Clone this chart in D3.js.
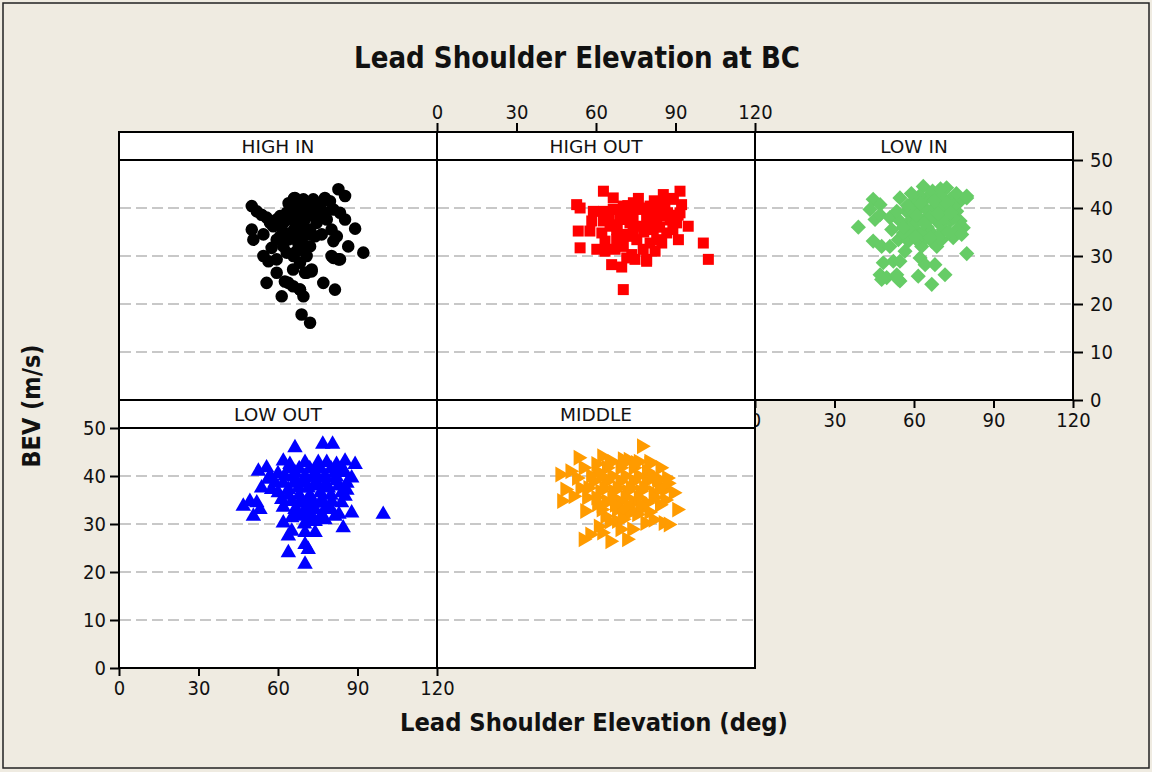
<!DOCTYPE html>
<html>
<head>
<meta charset="utf-8">
<script src="https://cdn.jsdelivr.net/npm/d3@7"></script>
<style>
  html, body { margin: 0; padding: 0; background: #EFEBE1; }
  svg { display: block; }
  text { font-family: "DejaVu Sans Condensed", "DejaVu Sans", sans-serif; fill: #111; }
</style>
</head>
<body>
<svg id="chart" width="1152" height="772"></svg>
<script>
// ---------------- DATA ----------------
const title = "Lead Shoulder Elevation at BC";
const xLabel = "Lead Shoulder Elevation (deg)";
const yLabel = "BEV (m/s)";
const panelNames = ["HIGH IN", "HIGH OUT", "LOW IN", "LOW OUT", "MIDDLE"];
const xTicks = [0, 30, 60, 90, 120];
const yTicks = [0, 10, 20, 30, 40, 50];
const gridValues = [10, 20, 30, 40];

const highInAngle = [50.1,52,53.8,55.7,50.1,50.7,54.5,60.8,66.4,68.3,73.3,77.7,82.8,85.3,80.9,85.3,89.1,92.2,86.5,80.9,82.8,76.5,80.9,54.5,56.4,59.5,57.6,59.5,65.7,59.5,55.7,62.6,65.7,61.4,68.3,69.6,70.2,72.7,77.1,81.5,68.9,72.1,80.2,63.3,65.8,68.3,70.8,65.7,67.6,69.6,72.1,62,60.8,58.2,74.6,78.4,75.8,72.1,69.6,65.8,62,68.3,70.8,65.8,68.3,63.3,80.2,82.2,83.4,79.6,74,72.1,59.5,57,63.9,68.3,70.8,72.7,83.4,
  64,67,70,66,69,71,64,67,73,62,66,71,75,63,60,67,70,76,78,64,68];
const highInBev   = [40.4,39.3,38.6,38,35.5,33.4,34.5,38.3,42.1,40.7,41.8,42.1,43.9,42.5,39.7,37.6,35.7,30.7,32,29.6,29.3,34.5,33.1,30,28.9,29.3,31.7,33.4,27.2,26.5,24.4,24.7,23.7,21.6,23,21.6,26.5,27.2,24.4,23,17.8,16.1,30,39,37.6,36.2,39,34.8,32.7,31.4,32,32,34.1,36.2,36.9,37.6,39.7,40.4,41.8,40.4,36.9,34.1,30,30,28.6,30.7,35.5,34.1,39,41.4,34.1,35.5,37.6,36.9,24.4,23,26.5,26.8,29.3,
  38,39.5,37.5,35.5,33,34.5,33.5,31,38.5,35,42,41,38,37.5,36.5,36,35.8,40.5,39,41,38.5];

const highOutAngle = [62.8,66.5,52.7,54,59,62.8,58.4,62.8,53.3,57.7,62.2,63.4,54,60.3,63.4,67.2,65.9,69.7,70.3,71.6,73.5,77.8,79.1,82.3,84.8,91.1,94.8,100.5,102.4,91.7,85.4,84.2,89.2,92.3,91.7,86.7,90.4,86.7,81.6,82.9,70.3,74.1,76.6,79.1,69.1,72.8,76.6,67.8,71.6,75.4,67.8,70.3,80.4,66.5,80.4,82.9,82.9,72.8,65.3,74.7,79.1,
  70,74,78,82,86,88,84,78,74,70,72,76,80,88,68,65,87,85,91,89];
const highOutBev   = [43.5,42.1,40.7,40,39.3,39.3,37.3,37.3,35.2,35.2,34.8,33.1,31.7,31.4,31,31.4,28.2,27.7,23,29.6,30.3,31.4,29.3,31,32.7,33.4,36.2,32.7,29.3,43.5,42.8,41.1,41.8,40.7,39,38.3,36.9,34.8,35.5,33.4,40.4,41.1,39.7,38.3,37.6,36.9,36.2,35.5,34.1,33.4,33.4,32,32.7,39.7,40.4,39,36.9,39,36.2,29.3,28.9,
  38.5,38,40,41.5,40,37.5,36,35,35,34.5,40.5,42,37,42,36.5,38,39,38.5,38.5,35.5];

const lowInAngle = [39,44.6,47.2,43.4,45.3,47.2,50.9,51.6,44.6,47.8,50.9,54.1,56.6,48.4,52.2,54.7,47.2,49.7,53.5,54.7,62.3,64.2,67.9,71.7,61.6,66.7,79.9,76.1,78.6,74.8,70.4,66.7,68.6,62.9,57.9,56,54.7,63.5,72.3,79.9,77.4,59.7,64.8,68.6,73.6,57.2,62.3,67.3,72.3,76.1,58.5,63.5,68.6,73.6,61,66,71.1,64.8,61,54.7,53.5,77.4,79.9,76.1,78,54.1,47.8,
  60,65,70,75,60,65,70,75,62,67,71,58,63,69,73,66,71,61,56,59,76,70,
  62.5,67.5,72.5,64,69,74,57.5,60.5,66];
const lowInBev   = [36,41.8,40.7,39.7,37.6,38.6,38,35.5,33.1,32,32,33.4,31,28.6,28.9,28.9,26.1,25.5,26.1,24.8,29.6,28.2,28.2,26.1,25.8,24.1,30.5,34.8,35.9,33.8,33.4,33.1,32,32,33.1,34.8,42.1,44.5,44.2,42.5,41.4,41.4,42.1,42.8,41.8,39.3,40,40,39.3,39.3,37.3,37.3,37.3,37.3,35.2,35.2,35.5,33.8,33.4,37.3,39.3,37.3,42.1,35.5,34.5,25.1,25.1,
  39,39.5,40.5,40.5,36.5,36,36.5,38,42.5,43.5,42,35.5,34.5,34,35,38,38,38.5,36,43,43,44,
  41,41.5,41,36.8,38.8,39,40.5,34,33.8];

const lowOutAngle = [66.4,76.9,80.6,52.6,55.7,62,64.5,70.2,75.2,78.4,82.1,85.3,89.1,87.8,53.8,46.9,49.4,52,53.2,50.7,99.7,87.8,84.6,62,65.2,63.9,70.2,71.4,63.9,70.2,74,70.2,81.5,77.7,68.9,58.9,62.6,66.4,70.2,74,77.7,81.5,85.3,60.1,63.9,67.7,71.4,75.2,79,82.8,85.3,61.4,65.2,68.9,72.7,76.5,80.3,84,66.4,70.2,74,77.7,65.2,72.7,56.3,57.6,
  60,64,68,72,76,80,84,62,66,70,74,78,82,86,64,68,72,76,80,84,62,68,72,76,80,83,70,74,86,57,
  66,70,74,78,82,68,72,76];
const lowOutBev   = [45.9,46.6,46.6,41,41.7,43.1,42.4,42.8,42.8,42.8,42.4,43.1,42.4,39.6,37.5,33.7,34.7,34.4,33,31.6,32,32.3,29.2,30.2,28.5,27.5,25.7,24.7,24,21.6,28.2,28.2,31.6,30.9,31.6,38.6,40,40.7,40,40.7,40,40.7,40.7,36.5,37.2,37.5,37.5,37.9,37.5,37.9,35.8,35.1,34.7,35.1,35.1,35.1,34.7,34.4,33,33,33,33,31.3,30.9,39.3,37.2,
  40.5,41.5,41.5,41.5,41.5,41.5,41.5,38.5,38.5,38.5,38.5,38.5,39,38.5,36,36,36,36.5,36,36.5,33.5,32,32,31.5,33,32,30,30.5,37,40,
  39.8,39.6,39.8,39.7,39.8,34.3,34.2,34.3];

const middleAngle = [77.2,53.3,62.2,72.2,46.4,50.2,55.2,48.3,47.1,51.4,54,55.8,60.3,90.5,89.2,86,86.7,84.2,85.4,81.6,78.5,73.5,69.1,71.6,65.3,62.2,55.2,57.7,60.9,67.8,63.4,71.6,75.4,60.3,64,69.1,74.1,79.1,82.9,59,64,69.1,74.1,79.1,61.5,66.5,71.6,76.6,81.6,64,69.1,74.1,79.1,67.8,76.6,56.5,52.7,87.3,
  58,62,66,71,76,81,57,63,68,73,78,84,60,66,71,76,82,86,62,70,73,80,65,70,84,66,70,76,80,83,87,
  60,65,70,75,80,62,67,72,77];
const middleBev   = [46.2,43.8,44.1,43.4,40.3,41,41.7,37.2,34.8,35.8,37.5,32.7,34.1,33,36.5,37.2,39.6,41.7,30.2,30.9,30.2,28.9,28.9,26.8,26.4,28.2,26.8,27.8,29.5,30.6,31.6,32,32,41,41.7,41.7,41.7,41,39.6,38.9,38.9,38.9,38.9,38.9,36.8,36.8,36.8,36.8,36.5,34.7,34.7,34.7,34.4,33,33,35.5,39.6,29.9,
  40,40,40,40,40,40,37.5,37.5,37.5,37.5,37.5,37.5,35.5,35.5,35.5,35.5,35.5,35,33,33,33,32.5,30.5,31,34,43,43.5,43,43,39,38.5,
  42.5,42.8,42.6,42.7,42.5,33.9,34,33.8,33.9];

// ---------------- LAYOUT ----------------
const svg = d3.select("#chart");
const W = 1152, H = 772;
const panelW = 318, panelH = 268, stripH = 28;
const left0 = 119, top0 = 132;
const condensed = "DejaVu Sans Condensed, DejaVu Sans, sans-serif";

const panels = [
  {name: panelNames[0], col: 0, row: 0, xs: highInAngle, ys: highInBev, color: "#000000", sym: d3.symbolCircle, size: 124, rot: 0},
  {name: panelNames[1], col: 1, row: 0, xs: highOutAngle, ys: highOutBev, color: "#FF0000", sym: d3.symbolSquare, size: 121, rot: 0},
  {name: panelNames[2], col: 2, row: 0, xs: lowInAngle, ys: lowInBev, color: "#66CC66", sym: d3.symbolSquare, size: 115, rot: 45},
  {name: panelNames[3], col: 0, row: 1, xs: lowOutAngle, ys: lowOutBev, color: "#0000FF", sym: d3.symbolTriangle, size: 104, rot: 0},
  {name: panelNames[4], col: 1, row: 1, xs: middleAngle, ys: middleBev, color: "#FF9B00", sym: d3.symbolTriangle, size: 110, rot: 90}
];

panels.forEach(p => {
  p.x0 = left0 + p.col * panelW;
  p.y0 = top0 + p.row * panelH;
  p.x = d3.scaleLinear().domain([0, 120]).range([p.x0, p.x0 + panelW]);
  p.y = d3.scaleLinear().domain([0, 50]).range([p.y0 + panelH, p.y0 + stripH]);
});

svg.append("rect").attr("x", 0).attr("y", 0).attr("width", W).attr("height", H).attr("fill", "#EFEBE1");
svg.append("rect").attr("x", 3).attr("y", 3).attr("width", 1146).attr("height", 765)
  .attr("fill", "none").attr("stroke", "#222").attr("stroke-width", 1.5);

svg.append("text").attr("x", 577).attr("y", 68).attr("text-anchor", "middle")
  .style("font-family", "DejaVu Sans, sans-serif")
  .style("font-size", "30px").style("font-weight", "bold")
  .attr("textLength", 446).attr("lengthAdjust", "spacingAndGlyphs").text(title);

function drawPanel(p) {
  const g = svg.append("g");
  g.append("rect").attr("x", p.x0).attr("y", p.y0).attr("width", panelW).attr("height", panelH).attr("fill", "#fff");
  g.selectAll("line.grid").data(gridValues).join("line")
    .attr("x1", p.x0 + 1).attr("x2", p.x0 + panelW - 1)
    .attr("y1", d => p.y(d)).attr("y2", d => p.y(d))
    .attr("stroke", "#C8C8C8").attr("stroke-width", 2).attr("stroke-dasharray", "11,5");
  const sym = d3.symbol().type(p.sym).size(p.size);
  g.selectAll("path.pt").data(p.xs.map((v, i) => [v, p.ys[i]])).join("path")
    .attr("d", sym)
    .attr("transform", d => `translate(${p.x(d[0])},${p.y(d[1])}) rotate(${p.rot})`)
    .attr("fill", p.color);
  g.append("line").attr("x1", p.x0).attr("x2", p.x0 + panelW)
    .attr("y1", p.y0 + stripH).attr("y2", p.y0 + stripH).attr("stroke", "#000").attr("stroke-width", 2);
  g.append("text").attr("x", p.x0 + panelW / 2).attr("y", p.y0 + 21).attr("text-anchor", "middle")
    .style("font-family", "DejaVu Sans, sans-serif")
    .style("font-size", "18.5px").text(p.name);
  g.append("rect").attr("x", p.x0).attr("y", p.y0).attr("width", panelW).attr("height", panelH)
    .attr("fill", "none").attr("stroke", "#000").attr("stroke-width", 2);
}

const tickFont = "20px";
function styleAxis(g) {
  g.select(".domain").remove();
  g.selectAll(".tick line").attr("stroke", "#000").attr("stroke-width", 2);
  g.selectAll(".tick text").style("font-size", tickFont).style("font-family", condensed).attr("fill", "#111");
}

panels.filter(p => p.row === 0).forEach(drawPanel);

{
  const p = panels[1];
  const ax = d3.axisTop(p.x).tickValues(xTicks).tickSize(9).tickPadding(4).tickFormat(d3.format("d"));
  styleAxis(svg.append("g").attr("transform", `translate(0,${p.y0})`).call(ax));
}
{
  const p = panels[2];
  const ax = d3.axisBottom(p.x).tickValues(xTicks).tickSize(8).tickPadding(5).tickFormat(d3.format("d"));
  styleAxis(svg.append("g").attr("transform", `translate(0,${p.y0 + panelH})`).call(ax));
  const ay = d3.axisRight(p.y).tickValues(yTicks).tickSize(10).tickPadding(7).tickFormat(d3.format("d"));
  styleAxis(svg.append("g").attr("transform", `translate(${p.x0 + panelW},0)`).call(ay));
}

panels.filter(p => p.row === 1).forEach(drawPanel);

{
  const p = panels[3];
  const ay = d3.axisLeft(p.y).tickValues(yTicks).tickSize(9).tickPadding(4).tickFormat(d3.format("d"));
  styleAxis(svg.append("g").attr("transform", `translate(${p.x0},0)`).call(ay));
  const ax = d3.axisBottom(p.x).tickValues(xTicks).tickSize(8).tickPadding(5).tickFormat(d3.format("d"));
  styleAxis(svg.append("g").attr("transform", `translate(0,${p.y0 + panelH})`).call(ax));
}

svg.append("text").attr("x", 594).attr("y", 731).attr("text-anchor", "middle")
  .style("font-family", "DejaVu Sans, sans-serif")
  .style("font-size", "24px").style("font-weight", "bold")
  .attr("textLength", 388).attr("lengthAdjust", "spacingAndGlyphs").text(xLabel);
svg.append("text").attr("transform", "translate(40,406) rotate(-90)").attr("text-anchor", "middle")
  .style("font-family", "DejaVu Sans, sans-serif")
  .style("font-size", "24px").style("font-weight", "bold")
  .attr("textLength", 123).attr("lengthAdjust", "spacingAndGlyphs").text(yLabel);
</script>
</body>
</html>
